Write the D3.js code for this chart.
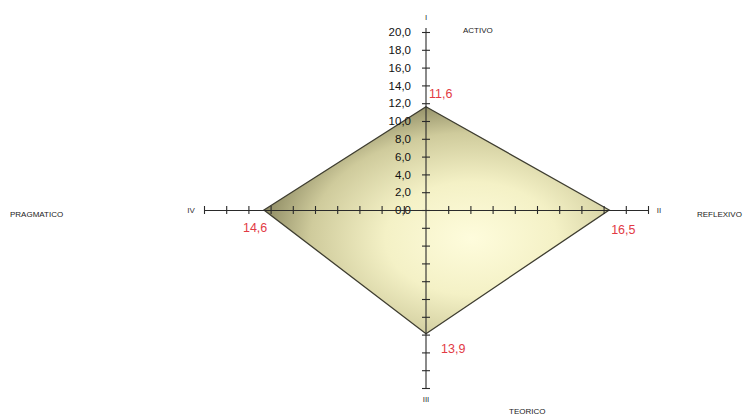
<!DOCTYPE html>
<html>
<head>
<meta charset="utf-8">
<script src="https://cdn.jsdelivr.net/npm/d3@7"></script>
<style>
  body { margin: 0; background: #fff; }
  svg { display: block; font-family: "Liberation Sans", Arial, sans-serif; }
</style>
</head>
<body>
<svg id="chart" width="751" height="416"></svg>
<script>
// styles and their scores
const estilos = ["ACTIVO", "REFLEXIVO", "TEORICO", "PRAGMATICO"];
const cuadrantes = ["I", "II", "III", "IV"];
const puntajes = [11.6, 16.5, 13.9, 14.6];
const tickValues = [0, 2, 4, 6, 8, 10, 12, 14, 16, 18, 20];

const svg = d3.select("#chart");
const cx = 426, cy = 210;

//scales
const x = d3.scaleLinear().domain([-20, 20]).range([204, 648]);
const y = d3.scaleLinear().domain([-20, 20]).range([388, 32]);
const fmt = d => d3.format(".1f")(d).replace(".", ",");

//gradient
const grad = svg.append("defs").append("radialGradient")
  .attr("id", "fondo").attr("cx", "60%").attr("cy", "58%").attr("r", "62%");
grad.append("stop").attr("offset", "0%").attr("stop-color", "#fefcdc");
grad.append("stop").attr("offset", "40%").attr("stop-color", "#f4f1c6");
grad.append("stop").attr("offset", "75%").attr("stop-color", "#cfcb9c");
grad.append("stop").attr("offset", "100%").attr("stop-color", "#8a8760");

//diamond
const pts = [
  [x(0), y(puntajes[0])],
  [x(puntajes[1]), y(0)],
  [x(0), y(-puntajes[2])],
  [x(-puntajes[3]), y(0)]
];
svg.append("path")
  .attr("d", d3.line()(pts) + "Z")
  .attr("fill", "url(#fondo)")
  .attr("stroke", "#3e3d30")
  .attr("stroke-width", 1.3);

//vertical axis, upper with labels
const gUp = svg.append("g").attr("transform", `translate(${cx},0)`)
  .call(d3.axisLeft(y).tickValues(tickValues).tickFormat(fmt).tickSizeOuter(0).tickSizeInner(4).tickPadding(11));
//vertical axis, lower
const gDown = svg.append("g").attr("transform", `translate(${cx},0)`)
  .call(d3.axisLeft(y).tickValues(tickValues.slice(1).map(d => -d)).tickFormat("").tickSizeOuter(0).tickSizeInner(4));
//horizontal axis
const gH = svg.append("g").attr("transform", `translate(0,${cy})`)
  .call(d3.axisBottom(x).tickValues(tickValues.slice(1).flatMap(d => [d, -d])).tickFormat("").tickSizeOuter(0).tickSizeInner(4));

[gUp, gDown].forEach(g => g.selectAll(".tick line").attr("x1", -4).attr("x2", 4));
gH.selectAll(".tick line").attr("y1", -4).attr("y2", 4);
[gUp, gDown, gH].forEach(g => {
  g.selectAll(".domain, line").attr("stroke", "#2a2a2a").attr("stroke-width", 1.1);
  g.selectAll("text").attr("font-size", 11.5).attr("fill", "#111");
});
gUp.select(".domain").attr("d", `M0,${y(0)}V${y(20) - 4}`);
gDown.select(".domain").attr("d", `M0,${y(0)}V${y(-20)}`);

//roman numerals
const romanPos = [[cx, 20], [659, cy + 3], [cx, 402], [191, cy + 3]];
svg.selectAll(".roman").data(cuadrantes).join("text")
  .attr("class", "roman")
  .attr("x", (d, i) => romanPos[i][0])
  .attr("y", (d, i) => romanPos[i][1])
  .attr("text-anchor", "middle")
  .attr("font-size", 8).attr("fill", "#333")
  .text(d => d);

//style names
const namePos = [[463, 33], [697, 217], [509, 414], [10, 217]];
svg.selectAll(".estilo").data(estilos).join("text")
  .attr("class", "estilo")
  .attr("x", (d, i) => namePos[i][0])
  .attr("y", (d, i) => namePos[i][1])
  .attr("font-size", 8).attr("fill", "#222")
  .text(d => d);

//value labels
const valPos = [[x(0) + 3, y(puntajes[0]) - 9], [x(puntajes[1]) + 2, y(0) + 24], [x(0) + 15, y(-puntajes[2]) + 19], [x(-puntajes[3]) - 21, y(0) + 22]];
svg.selectAll(".valor").data(puntajes).join("text")
  .attr("class", "valor")
  .attr("x", (d, i) => valPos[i][0])
  .attr("y", (d, i) => valPos[i][1])
  .attr("font-size", 12.5).attr("fill", "#e23a45")
  .text(d => fmt(d));
</script>
</body>
</html>
